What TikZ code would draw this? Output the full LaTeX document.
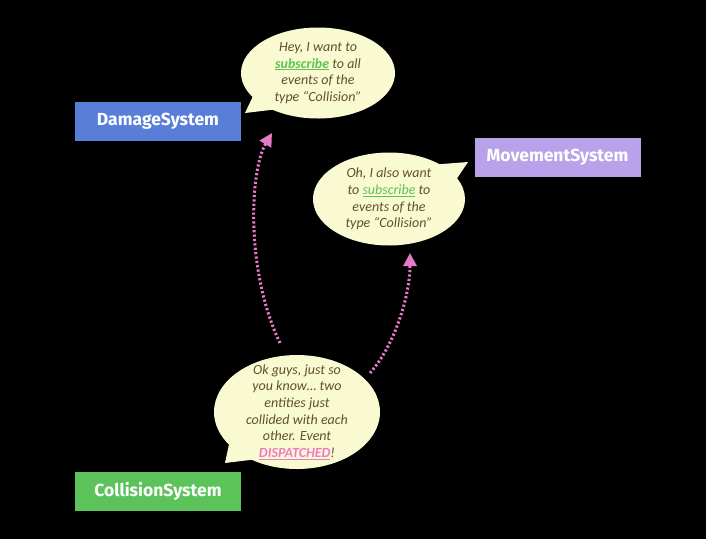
\documentclass[tikz,border=0pt]{standalone}
\usepackage{fontspec}
\setmainfont{Carlito}
\newfontfamily\boxfont{Fira Sans}
\usetikzlibrary{shapes.callouts,shapes.geometric,arrows.meta}
\definecolor{dmgblue}{RGB}{88,126,216}
\definecolor{movlav}{RGB}{185,162,234}
\definecolor{colgreen}{RGB}{92,195,91}
\definecolor{bubblefill}{RGB}{250,250,210}
\definecolor{bubbletext}{RGB}{96,80,44}
\definecolor{subgreen}{RGB}{92,196,82}
\definecolor{dispink}{RGB}{240,122,200}
\definecolor{arrowpink}{RGB}{232,120,200}
\tikzset{
  sysbox/.style={fill=#1, minimum width=166pt, minimum height=39pt, inner sep=0pt,
    text=white, font=\boxfont\bfseries\fontsize{17.5}{20}\selectfont},
  bubble/.style={ellipse callout, fill=bubblefill, inner sep=0pt, callout pointer arc=22},
  bubbletxt/.style={align=center, text=bubbletext, inner sep=0pt,
    font=\itshape\fontsize{14}{16.7}\selectfont},
  eventarrow/.style={draw=arrowpink, line width=3pt, dash pattern=on 2.2pt off 2.2pt,
    -{Triangle[length=13pt,width=13pt]}}
}
\begin{document}
\begin{tikzpicture}[x=1pt,y=-1pt]
\fill[black] (0,0) rectangle (706,539);
\useasboundingbox (0,0) rectangle (706,539);

\node[sysbox=dmgblue] (dmg) at (158,121.5) {DamageSystem};
\node[sysbox=movlav] (mov) at (557.5,157) {MovementSystem};
\node[sysbox=colgreen] (col) at (158,491.5) {CollisionSystem};

\node[bubble, minimum width=154pt, minimum height=91pt, callout absolute pointer={(245,113)}] (b1) at (318,73) {};
\node[bubbletxt] (t1) at (b1.center) {Hey, I want to\\\textcolor{subgreen}{\bfseries\underline{subscribe}} to all\\events of the\\type “Collision”};

\node[bubble, minimum width=152pt, minimum height=93pt, callout absolute pointer={(468,162)}] (b2) at (389,199) {};
\node[bubbletxt] (t2) at (b2.center) {Oh, I also want\\to \textcolor{subgreen}{\underline{subscribe}} to\\events of the\\type “Collision”};

\node[bubble, minimum width=166pt, minimum height=114pt, callout absolute pointer={(225,463)}] (b3) at (297,412) {};
\node[bubbletxt] (t3) at (b3.center) {Ok guys, just so\\you know… two\\entities just\\collided with each\\other. Event\\\textcolor{dispink}{\bfseries\underline{DISPATCHED}}!};

\coordinate (a1s) at (280,343);
\coordinate (a1e) at (272,133);
\coordinate (a2s) at (370,373);
\coordinate (a2e) at (410,253);
\draw[eventarrow] (a1s) .. controls (245,270) and (250,170) .. (a1e);
\draw[eventarrow] (a2s) .. controls (395,345) and (410,295) .. (a2e);
\end{tikzpicture}
\end{document}
